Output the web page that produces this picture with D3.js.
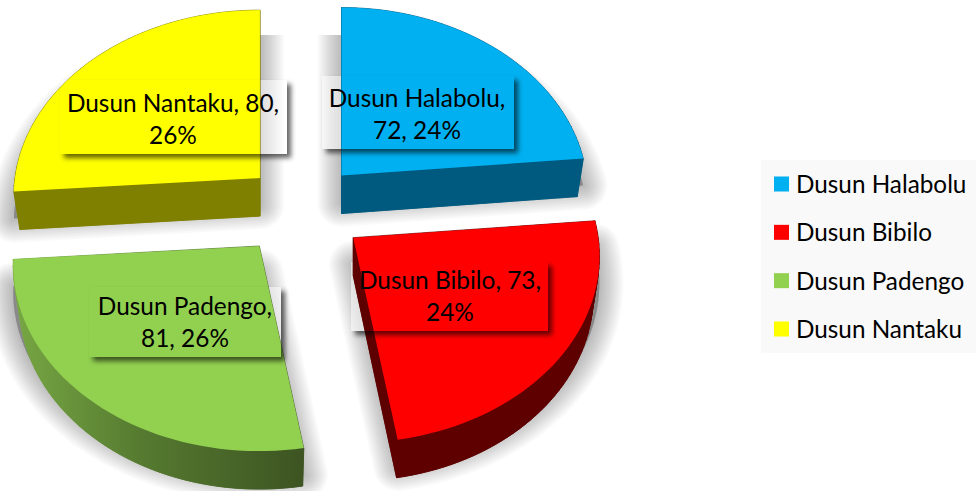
<!DOCTYPE html>
<html><head><meta charset="utf-8">
<script src="https://cdn.jsdelivr.net/npm/d3@7"></script>
<style>html,body{margin:0;padding:0;background:#fff}svg{display:block}text{font-family:Lato,"Open Sans",sans-serif;fill:#000}</style>
</head><body><svg id="c" width="976" height="491"></svg>
<script>
const categories = ["Dusun Halabolu","Dusun Bibilo","Dusun Padengo","Dusun Nantaku"];
const values = [72,73,81,80];
const topColors = ["#00b0f0","#ff0000","#92d050","#ffff00"];
const sideColors = ["#005a80","#5e0000","url(#padSide)","#808000"];
const labelSplit = [1,2,1,2];

const W=976,H=491;
const cx=304,cy=209,Rx=245,Ry=184.7,persp=0.0995,explode=0.25,depth=38,squeeze=0.975;
const nudgeX=[-3,0,-6,0];
const labelBoxes=[{x:322,y:76,w:192,h:73,cx:417,b:107},{x:351,y:262,w:197,h:69,cx:450,b:289},{x:89,y:287,w:192,h:70,cx:185,b:315},{x:60,y:80,w:227,h:74,cx:173,b:112}];
const lineGap=32;
const shadowDrop=27, shadowLayers=d3.range(1,13);

const svg=d3.select("#c");
const defs=svg.append("defs");
const total=d3.sum(values);
const pct=d3.format(".0%");
const arcs=d3.pie().sort(null).value(d=>d)(values);

const f2=defs.append("filter").attr("id","soft2").attr("x","-20%").attr("y","-30%").attr("width","140%").attr("height","160%");
f2.append("feGaussianBlur").attr("stdDeviation",2.5);
const g=defs.append("linearGradient").attr("id","padSide").attr("gradientUnits","userSpaceOnUse")
 .attr("x1",11).attr("x2",304).attr("y1",0).attr("y2",0);
g.append("stop").attr("offset",0).attr("stop-color","#78a844");
g.append("stop").attr("offset",.45).attr("stop-color","#557a30");
g.append("stop").attr("offset",1).attr("stop-color","#3d5422");

function proj(a,r){const u=Math.sin(a)*r,v=-Math.cos(a)*r,s=1/(1-persp*v);return [Rx*u*s,Ry*v*s];}
const line=d3.line();
const slices=arcs.map((d,i)=>{
  const mid=(d.startAngle+d.endAngle)/2,o=proj(mid,explode);
  const ax=cx+o[0]+nudgeX[i],ay=cy+o[1];
  const n=48;
  const rim=d3.range(n+1).map(k=>proj(d.startAngle+(d.endAngle-d.startAngle)*k/n,1));
  const top=rim.map(p=>[ax+p[0],ay+p[1]]);
  const bot=rim.map(p=>[ax+p[0]*squeeze,ay+p[1]+depth]);
  const apexT=[ax,ay],apexB=[ax,ay+depth];
  const quads=[[apexT,top[0],bot[0],apexB],[apexT,top[n],bot[n],apexB]];
  for(let k=0;k<n;k++)quads.push([top[k],top[k+1],bot[k+1],bot[k]]);
  return {i,apexT,apexB,top,bot,quads,faces:[[apexB,...bot],...quads]};
});
const poly=pts=>line(pts)+"Z";

// ground shadows: soft falloff built from stacked translucent outlines
const shadowClip=defs.append("clipPath").attr("id","shClip");
shadowClip.append("rect").attr("x",0).attr("y",35).attr("width",W).attr("height",H-35);
const sg=svg.append("g").attr("clip-path","url(#shClip)").selectAll("g").data(slices).join("g")
  .attr("transform",`translate(0,${shadowDrop})`);
sg.selectAll("path").data(s=>shadowLayers.map(k=>({k,pts:[s.apexT,...s.top]}))).join("path")
  .attr("d",d=>poly(d.pts)).attr("fill","#000").attr("fill-opacity",.025)
  .attr("stroke","#000").attr("stroke-opacity",.025).attr("stroke-width",d=>d.k*4).attr("stroke-linejoin","round");

// label panels lighten what is behind the pie
svg.append("g").selectAll("rect").data(labelBoxes).join("rect")
  .attr("x",d=>d.x).attr("y",d=>d.y).attr("width",d=>d.w).attr("height",d=>d.h)
  .attr("fill","#fff").attr("fill-opacity",.5);

// pie solids
const pg=svg.append("g").selectAll("g").data(slices).join("g");
pg.each(function(s){
  d3.select(this).selectAll("path.side").data(s.faces).join("path").attr("class","side").attr("d",poly)
    .attr("fill",sideColors[s.i]).attr("stroke",sideColors[s.i]).attr("stroke-width",.7);
});
pg.append("path").attr("d",s=>poly([s.apexT,...s.top])).attr("fill",s=>topColors[s.i]);

// label panel shadows, only outside each panel
labelBoxes.forEach((b,i)=>{
  const cp=defs.append("clipPath").attr("id","lb"+i);
  cp.append("path").attr("clip-rule","evenodd")
    .attr("d",`M0 0H${W}V${H}H0Z M${b.x} ${b.y}h${b.w}v${b.h}h${-b.w}Z`);
  svg.append("g").attr("clip-path",`url(#lb${i})`)
    .append("rect").attr("x",b.x+4).attr("y",b.y+4).attr("width",b.w).attr("height",b.h)
    .attr("fill","#000").attr("fill-opacity",.6).attr("filter","url(#soft2)");
});

// data labels
categories.forEach((c,i)=>{
  const parts=[c,values[i],pct(values[i]/total)];
  const l1=parts.slice(0,labelSplit[i]).join(", ")+",";
  const l2=parts.slice(labelSplit[i]).join(", ");
  const b=labelBoxes[i];
  const t=svg.append("text").attr("text-anchor","middle").attr("font-size",24.4);
  t.append("tspan").attr("x",b.cx).attr("y",b.b).text(l1);
  t.append("tspan").attr("x",b.cx).attr("y",b.b+lineGap).text(l2);
});

// legend
svg.append("rect").attr("x",761).attr("y",160).attr("width",215).attr("height",193).attr("fill","#f9f9f9");
const ly=d3.scalePoint().domain(categories).range([184,329]);
const lg=svg.append("g").selectAll("g").data(categories).join("g").attr("transform",d=>`translate(774,${ly(d)})`);
lg.append("rect").attr("y",-7.5).attr("width",15).attr("height",15).attr("fill",(d,i)=>topColors[i]);
lg.append("text").attr("x",22).attr("y",9).attr("font-size",24.3).text(d=>d);
</script></body></html>
